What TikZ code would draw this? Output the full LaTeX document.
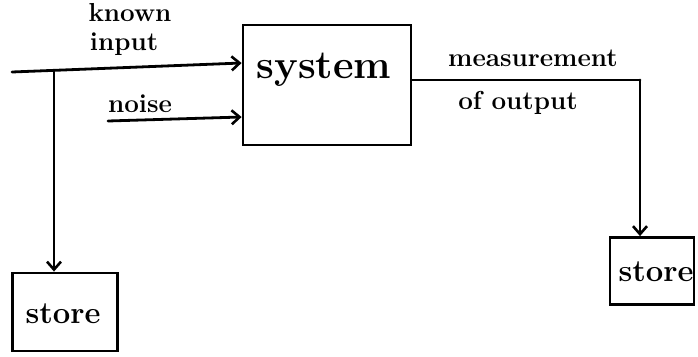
\documentclass[tikz,border=0pt]{standalone}
\usetikzlibrary{arrows.meta}
\begin{document}
\begin{tikzpicture}[x=1pt,y=-1pt,
  line/.style={line width=2.8pt, line cap=round, line join=round},
  arr/.style={line, -{Straight Barb[length=8pt,width=14pt,line width=2.6pt]}},
  box/.style={draw, line width=2.8pt, rectangle, inner sep=0pt},
  lbl/.style={font=\fontsize{26}{30}\selectfont\bfseries, inner sep=0pt},
  boxtext/.style={font=\fontsize{31}{34}\selectfont\bfseries, inner sep=0pt}]
\useasboundingbox (0,0) rectangle (698,356);
% nodes
\node[box, minimum width=168pt, minimum height=120pt] (sys) at (327,85) {};
\node[font=\fontsize{40}{44}\selectfont\bfseries, inner sep=0pt] (syst) at (324,70) {system};
\node[box, minimum width=105pt, minimum height=78pt] (st1) at (65,312) {};
\node[boxtext] (st1t) at (63,314) {store};
\node[box, minimum width=84pt, minimum height=67pt] (st2) at (652,271) {};
\node[boxtext] (st2t) at (656,272) {store};
% labels
\node[lbl] (lk) at (130,13) {known};
\node[lbl] (li) at (124,44) {input};
\node[lbl] (ln) at (140,104) {noise};
\node[lbl] (lm) at (533,58) {measurement};
\node[lbl] (lo) at (518,103) {of output};
% connectors
\coordinate (kin) at (12,72);
\coordinate (br) at (54,71);
\coordinate (nz) at (108,121);
\coordinate (out) at ([yshift=5pt]sys.east);
\coordinate (cor) at (640,80);
\draw[arr] (kin) -- ([yshift=22pt]sys.west);
\draw[arr] (nz) -- ([yshift=-32pt]sys.west);
\draw[arr] (br) -- (br |- st1.north);
\draw[line] (out) -- (cor |- out);
\draw[arr] (cor |- out) -- (cor |- st2.north);
\end{tikzpicture}
\end{document}
